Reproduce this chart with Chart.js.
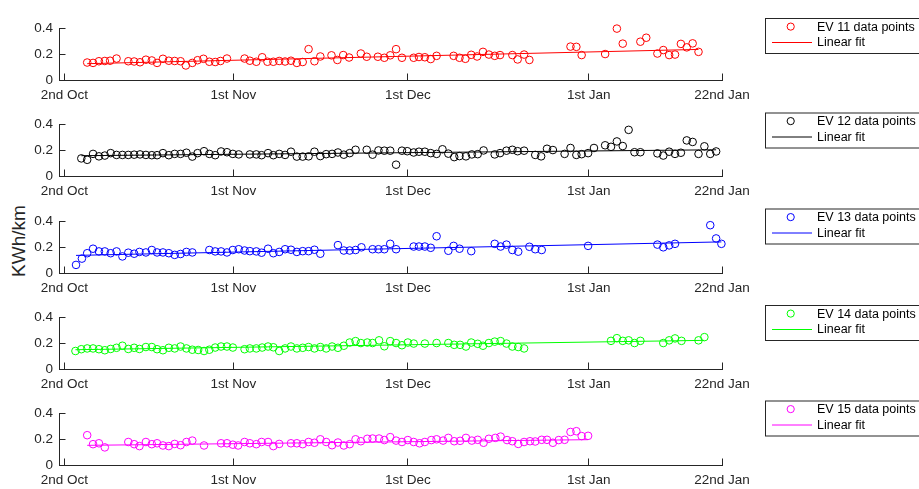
<!DOCTYPE html>
<html>
<head>
<meta charset="utf-8">
<script src="https://cdn.jsdelivr.net/npm/chart.js@4.4.1/dist/chart.umd.min.js"></script>
<style>
  body { margin: 0; background: #fff; width: 919px; height: 489px; overflow: hidden; position: relative; }
  canvas { position: absolute; left: 0; }
  #ylab { position: absolute; left: 19px; top: 241px; transform: translate(-50%, -50%) rotate(-90deg);
          font: 19px "Liberation Sans", Arial, sans-serif; color: #262626; white-space: nowrap; }
</style>
</head>
<body>
<div id="ylab">KWh/km</div>
<canvas id="c0" width="919" height="96"></canvas>
<canvas id="c1" width="919" height="96"></canvas>
<canvas id="c2" width="919" height="96"></canvas>
<canvas id="c3" width="919" height="96"></canvas>
<canvas id="c4" width="919" height="96"></canvas>
<script>
// x values are days after 2nd Oct
const tickDays = [0, 28.8, 58.5, 89.3, 112];
const tickLabels = ['2nd Oct', '1st Nov', '1st Dec', '1st Jan', '22nd Jan'];

const ev11X = [3.9,4.9,5.9,6.9,7.8,8.9,10.9,11.9,12.9,13.9,14.9,15.8,16.8,17.8,18.8,19.8,20.7,21.8,22.7,23.7,24.7,25.7,26.6,27.7,
  30.7,31.6,32.7,33.7,34.6,35.6,36.6,37.6,38.6,39.6,40.6,41.6,42.6,43.6,45.5,46.5,47.5,48.5,50.5,51.5,53.4,54.5,55.5,56.5,57.5,
  59.5,60.4,61.4,62.4,63.4,66.3,67.3,68.3,69.3,70.3,71.3,72.3,73.3,74.2,76.3,77.2,78.3,79.2,86.2,87.2,88.1,92.1,94.1,95.1,98.1,
  99.1,101.0,102.0,103.0,104.0,105.0,106.0,107.0,108.0];
const ev11Y = [0.136,0.133,0.146,0.148,0.150,0.167,0.146,0.144,0.138,0.158,0.152,0.133,0.165,0.150,0.148,0.146,0.113,0.133,0.154,0.165,0.142,0.140,0.148,0.167,
  0.167,0.150,0.142,0.177,0.142,0.142,0.148,0.144,0.150,0.133,0.140,0.240,0.146,0.183,0.192,0.156,0.194,0.175,0.206,0.181,0.181,0.173,0.192,0.240,0.173,
  0.173,0.179,0.177,0.163,0.188,0.188,0.173,0.165,0.196,0.183,0.219,0.198,0.188,0.194,0.194,0.160,0.198,0.156,0.260,0.258,0.194,0.202,0.400,0.283,0.298,
  0.329,0.206,0.233,0.194,0.198,0.281,0.254,0.285,0.219];
const ev11FitX = [3.9, 108.0];
const ev11FitY = [0.127, 0.238];

const ev12X = [2.9,3.9,4.9,5.9,6.9,7.9,8.9,9.9,10.9,11.9,12.9,13.9,14.9,15.8,16.8,17.8,18.8,19.8,20.8,21.8,22.7,23.8,24.7,25.7,26.7,27.7,28.7,29.7,
  31.6,32.7,33.6,34.7,35.6,36.6,37.6,38.6,39.6,40.6,41.6,42.6,43.6,44.6,45.6,46.6,47.6,48.6,49.6,51.5,52.5,53.5,54.5,55.5,56.5,57.5,58.4,59.5,
  60.4,61.4,62.4,63.4,64.4,65.4,66.4,67.3,68.4,69.4,70.4,71.4,73.3,74.2,75.3,76.3,77.2,78.3,80.2,81.2,82.2,83.2,85.2,86.2,87.2,88.1,89.2,90.2,
  92.1,93.1,94.1,95.1,96.1,97.1,98.1,101.0,102.0,103.0,104.0,105.0,106.0,107.0,108.0,109.0,110.0,111.0];
const ev12Y = [0.137,0.126,0.172,0.153,0.159,0.178,0.164,0.164,0.164,0.166,0.168,0.164,0.162,0.162,0.178,0.162,0.172,0.172,0.181,0.151,0.178,0.193,0.172,0.162,0.191,0.185,0.172,0.168,
  0.168,0.168,0.162,0.178,0.162,0.172,0.164,0.189,0.151,0.151,0.153,0.189,0.155,0.170,0.172,0.183,0.166,0.178,0.204,0.204,0.166,0.199,0.197,0.197,0.088,0.197,0.193,0.183,
  0.189,0.189,0.178,0.172,0.208,0.174,0.147,0.155,0.153,0.168,0.170,0.199,0.168,0.178,0.197,0.204,0.193,0.197,0.164,0.153,0.212,0.202,0.172,0.218,0.164,0.170,0.178,0.218,
  0.239,0.227,0.269,0.233,0.359,0.185,0.185,0.176,0.159,0.189,0.172,0.181,0.277,0.265,0.172,0.231,0.172,0.191];
const ev12FitX = [2.9, 111.0];
const ev12FitY = [0.158, 0.204];

const ev13X = [2.0,3.0,3.9,4.9,5.9,6.9,7.9,8.9,9.9,10.9,11.9,12.8,13.9,14.9,15.8,16.8,17.8,18.8,19.8,20.8,21.8,24.7,25.7,26.7,27.7,28.7,29.7,30.7,
  31.6,32.7,33.6,34.7,35.6,36.6,37.6,38.6,39.6,40.6,41.6,42.6,43.6,46.6,47.6,48.6,49.6,50.6,52.5,53.5,54.5,55.5,56.5,59.5,60.4,61.4,62.4,63.4,
  65.4,66.3,67.3,69.3,73.3,74.3,75.3,76.3,77.3,79.2,80.2,81.3,89.2,101.0,102.0,103.0,104.0,110.0,111.0,111.9];
const ev13Y = [0.063,0.112,0.154,0.189,0.168,0.168,0.154,0.168,0.129,0.158,0.150,0.164,0.160,0.179,0.160,0.160,0.154,0.141,0.148,0.164,0.160,0.179,0.168,0.168,0.160,0.179,0.185,0.175,
  0.170,0.168,0.158,0.189,0.154,0.164,0.185,0.181,0.164,0.170,0.170,0.181,0.150,0.217,0.175,0.175,0.179,0.200,0.185,0.185,0.185,0.227,0.185,0.206,0.206,0.206,0.196,0.286,
  0.173,0.211,0.189,0.170,0.227,0.206,0.221,0.179,0.166,0.204,0.185,0.179,0.211,0.221,0.200,0.215,0.227,0.372,0.269,0.227];
const ev13FitX = [2.0, 111.9];
const ev13FitY = [0.137, 0.242];

const ev14X = [1.9,2.9,3.9,4.9,5.9,6.9,7.9,8.9,9.9,10.9,11.9,12.8,13.9,14.9,15.8,16.8,17.8,18.8,19.8,20.8,21.8,22.8,23.8,24.7,25.7,26.7,27.7,28.7,
  30.7,31.6,32.7,33.7,34.7,35.6,36.6,37.6,38.6,39.6,40.6,41.6,42.6,43.6,44.6,45.6,46.6,47.6,48.6,49.6,50.5,51.6,52.5,53.6,54.5,55.5,56.5,57.5,
  58.5,59.5,61.4,63.4,65.4,66.4,67.4,68.4,69.3,70.4,71.3,72.3,73.3,74.3,75.3,76.3,77.3,78.3,93.1,94.1,95.1,96.1,97.1,98.1,102.0,103.0,104.0,
  105.1,108.0,109.0];
const ev14Y = [0.140,0.154,0.160,0.160,0.154,0.146,0.156,0.165,0.181,0.156,0.165,0.156,0.171,0.171,0.154,0.146,0.165,0.160,0.175,0.160,0.150,0.148,0.140,0.150,0.167,0.175,0.175,0.167,
  0.154,0.160,0.160,0.167,0.175,0.169,0.140,0.160,0.175,0.160,0.165,0.171,0.160,0.171,0.160,0.175,0.165,0.181,0.206,0.217,0.202,0.206,0.202,0.223,0.177,0.217,0.202,0.185,
  0.206,0.198,0.198,0.202,0.202,0.188,0.188,0.175,0.206,0.196,0.181,0.202,0.213,0.217,0.198,0.175,0.171,0.160,0.219,0.240,0.219,0.223,0.202,0.219,0.202,0.223,0.238,
  0.219,0.223,0.248];
const ev14FitX = [1.9, 109.0];
const ev14FitY = [0.150, 0.223];

const ev15X = [3.9,4.9,5.9,6.9,10.9,11.9,12.8,13.9,14.9,15.8,16.8,17.8,18.8,19.8,20.8,21.8,23.8,26.7,27.7,28.7,29.6,30.7,31.6,32.7,33.6,34.7,35.6,36.6,
  38.6,39.6,40.6,41.6,42.6,43.6,44.6,45.6,46.6,47.6,48.6,49.6,50.5,51.6,52.5,53.6,54.5,55.5,56.5,57.5,58.5,59.5,60.5,61.4,62.5,63.4,64.5,65.4,
  66.4,67.4,68.4,69.4,70.4,71.4,72.3,73.4,74.3,75.4,76.3,77.3,78.3,79.3,80.2,81.3,82.2,83.2,84.2,85.2,86.2,87.2,88.1,89.2];
const ev15Y = [0.232,0.162,0.169,0.137,0.179,0.162,0.147,0.179,0.162,0.169,0.152,0.147,0.164,0.154,0.179,0.190,0.152,0.169,0.169,0.158,0.152,0.179,0.169,0.162,0.179,0.179,0.147,0.164,
  0.169,0.169,0.162,0.179,0.173,0.200,0.179,0.154,0.175,0.152,0.162,0.200,0.185,0.204,0.206,0.206,0.194,0.217,0.190,0.179,0.194,0.179,0.169,0.179,0.194,0.200,0.190,0.211,
  0.185,0.188,0.211,0.190,0.196,0.173,0.204,0.211,0.221,0.194,0.185,0.164,0.179,0.185,0.183,0.196,0.196,0.173,0.194,0.196,0.257,0.263,0.225,0.227];
const ev15FitX = [3.9, 89.2];
const ev15FitY = [0.153, 0.197];

const series = [
  { name: 'EV 11 data points', color: '#ff0000', x: ev11X, y: ev11Y, fx: ev11FitX, fy: ev11FitY },
  { name: 'EV 12 data points', color: '#000000', x: ev12X, y: ev12Y, fx: ev12FitX, fy: ev12FitY },
  { name: 'EV 13 data points', color: '#0000ff', x: ev13X, y: ev13Y, fx: ev13FitX, fy: ev13FitY },
  { name: 'EV 14 data points', color: '#00ff00', x: ev14X, y: ev14Y, fx: ev14FitX, fy: ev14FitY },
  { name: 'EV 15 data points', color: '#ff00ff', x: ev15X, y: ev15Y, fx: ev15FitX, fy: ev15FitY }
];

const axisColor = '#262626';
const plotBottoms = [80, 176, 273, 369, 465];
const legendTops = [18, 112.5, 208.5, 305, 400.5];

Chart.defaults.font.family = '"Liberation Sans", Arial, sans-serif';
Chart.defaults.font.size = 13.5;
Chart.defaults.color = axisColor;

// boxed legend to the right of each panel, like the MATLAB one
const boxLegend = {
  id: 'boxLegend',
  afterDraw(chart, args, opts) {
    const ctx = chart.ctx;
    const top = opts.top;
    ctx.save();
    ctx.fillStyle = '#fff';
    ctx.strokeStyle = axisColor;
    ctx.lineWidth = 1;
    ctx.fillRect(765.5, top + 0.5, 170, 35);
    ctx.strokeRect(765.5, top + 0.5, 170, 35);
    ctx.strokeStyle = opts.color;
    ctx.beginPath();
    ctx.arc(790.7, top + 8.6, 3.6, 0, Math.PI * 2);
    ctx.stroke();
    ctx.beginPath();
    ctx.moveTo(772, top + 24.5);
    ctx.lineTo(812, top + 24.5);
    ctx.stroke();
    ctx.fillStyle = '#000';
    ctx.font = '12.5px "Liberation Sans", Arial, sans-serif';
    ctx.textBaseline = 'middle';
    ctx.fillText(opts.label, 817, top + 9.4);
    ctx.fillText('Linear fit', 817, top + 25);
    ctx.restore();
  }
};

series.forEach(function (s, i) {
  const canvas = document.getElementById('c' + i);
  const canvasTop = plotBottoms[i] - 72;
  canvas.style.top = canvasTop + 'px';
  new Chart(canvas.getContext('2d'), {
    type: 'scatter',
    data: {
      datasets: [
        {
          label: s.name,
          data: s.x.map((v, k) => ({ x: v, y: s.y[k] })),
          borderColor: s.color,
          backgroundColor: 'transparent',
          pointRadius: 3.8,
          pointBorderWidth: 1,
          showLine: false,
          clip: false
        },
        {
          label: 'Linear fit',
          type: 'line',
          data: s.fx.map((v, k) => ({ x: v, y: s.fy[k] })),
          borderColor: s.color,
          borderWidth: 1,
          pointRadius: 0,
          fill: false
        }
      ]
    },
    options: {
      responsive: false,
      animation: false,
      layout: { padding: { top: 8, left: 0, right: 197, bottom: 0 } },
      plugins: {
        legend: { display: false },
        tooltip: { enabled: false },
        boxLegend: { label: s.name, color: s.color, top: legendTops[i] - canvasTop }
      },
      scales: {
        x: {
          type: 'linear',
          min: -0.9,
          max: 112,
          afterFit: function (scale) { scale.height = 24; },
          afterBuildTicks: function (scale) { scale.ticks = tickDays.map(v => ({ value: v })); },
          ticks: {
            autoSkip: false,
            maxRotation: 0,
            padding: 14,
            callback: (v, k) => tickLabels[k]
          },
          grid: { drawOnChartArea: false, tickLength: -6.5, color: axisColor },
          border: { color: axisColor }
        },
        y: {
          min: 0,
          max: 0.4,
          afterFit: function (scale) { scale.width = 59; },
          ticks: { stepSize: 0.2, padding: 12.5 },
          grid: { drawOnChartArea: false, tickLength: -6.5, color: axisColor },
          border: { color: axisColor }
        }
      }
    },
    plugins: [boxLegend]
  });
});
</script>
</body>
</html>
